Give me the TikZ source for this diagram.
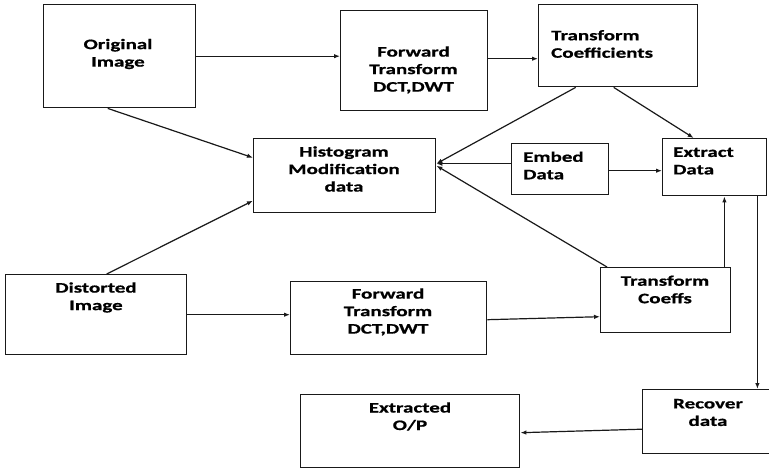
\documentclass[tikz,border=0pt]{standalone}
\usepackage{fontspec}
\setmainfont{Carlito}[FakeStretch=1.45,BoldFeatures={FakeBold=0.8}]
\usetikzlibrary{arrows.meta,calc}
\begin{document}
\begin{tikzpicture}[x=1pt,y=-1pt,
  box/.style={draw=black!90,line width=1.4pt,rectangle,inner sep=0pt,anchor=north west},
  txt/.style={font=\fontsize{14.5}{17.5}\selectfont\bfseries,inner sep=0pt,text=black},
  arr/.style={draw=black!90,line width=1.2pt,-{Latex[length=6pt,width=4.5pt]}}]
\useasboundingbox (0,0) rectangle (769,468);
\clip (0,0) rectangle (769,468);
% boxes
\node[box,minimum width=152,minimum height=103] (orig) at (43,4) {};
\node[box,minimum width=147,minimum height=100] (fwd1) at (340,10) {};
\node[box,minimum width=159,minimum height=82] (tc) at (538,4) {};
\node[box,minimum width=182,minimum height=74] (hist) at (253,138) {};
\node[box,minimum width=97,minimum height=51] (embed) at (511,143) {};
\node[box,minimum width=104,minimum height=57] (extract) at (662,138) {};
\node[box,minimum width=181,minimum height=80] (dist) at (5,274) {};
\node[box,minimum width=196,minimum height=73] (fwd2) at (290,281) {};
\node[box,minimum width=130,minimum height=65] (tcs) at (600,267) {};
\node[box,minimum width=140,minimum height=64] (rec) at (642,389) {};
\node[box,minimum width=219,minimum height=73] (ext) at (300,394) {};
% texts
\node[txt,align=center] (origt) at (118,54) {Original\\Image};
\node[txt,align=center] (fwd1t) at (413.5,70) {Forward\\Transform\\DCT,DWT};
\node[txt,align=left,anchor=west] (tct) at (551,44) {Transform\\Coefficients};
\node[txt,align=center] (histt) at (344,169) {Histogram\\Modification\\data};
\node[txt,align=left,anchor=west] (embedt) at (523,165.5) {Embed\\Data};
\node[txt,align=left,anchor=west] (extractt) at (673,161) {Extract\\Data};
\node[txt,align=center] (distt) at (96,297.5) {Distorted\\Image};
\node[txt,align=center] (fwd2t) at (388,312) {Forward\\Transform\\DCT,DWT};
\node[txt,align=center] (tcst) at (665,289.5) {Transform\\Coeffs};
\node[txt,align=center] (rect) at (708,412.5) {Recover\\data};
\node[txt,align=center] (extt) at (410,416.5) {Extracted\\O/P};
% connectors
\draw[arr] (orig.east) -- (orig.east -| fwd1.west);
\draw[arr] ([yshift=2]fwd1.east) -- ([yshift=2]fwd1.east -| tc.west);
\draw[arr] ([xshift=-12]orig.south) -- ([yshift=18]hist.west);
\draw[arr] ([xshift=10.5]dist.north) -- ([yshift=-25]hist.west);
\draw[arr] (dist.east) -- (dist.east -| fwd2.west);
\draw[arr] ([xshift=-42.5]tc.south) -- ([yshift=12]hist.east);
\draw[arr] ([yshift=5.5]embed.west) -- ([yshift=12]hist.east);
\draw[arr] ([xshift=7]tcs.north west) -- ([yshift=10]hist.east);
\draw[arr] ([xshift=-4.5]tc.south) -- ([xshift=-21]extract.north);
\draw[arr] ([yshift=-1.5]embed.east) -- ([yshift=-1.5]embed.east -| extract.west);
\draw[arr] ([xshift=-7]tcs.north east) -- ([xshift=-7]tcs.north east |- extract.south);
\draw[arr] ([xshift=-10]extract.south east) -- ([xshift=-10]extract.south east |- rec.north);
\draw[arr] ([yshift=-1.5]fwd2.east) -- ([yshift=-16.5]tcs.west);
\draw[arr] ([yshift=-7.5]rec.west) -- ([yshift=-1.5]ext.east);
\end{tikzpicture}
\end{document}
